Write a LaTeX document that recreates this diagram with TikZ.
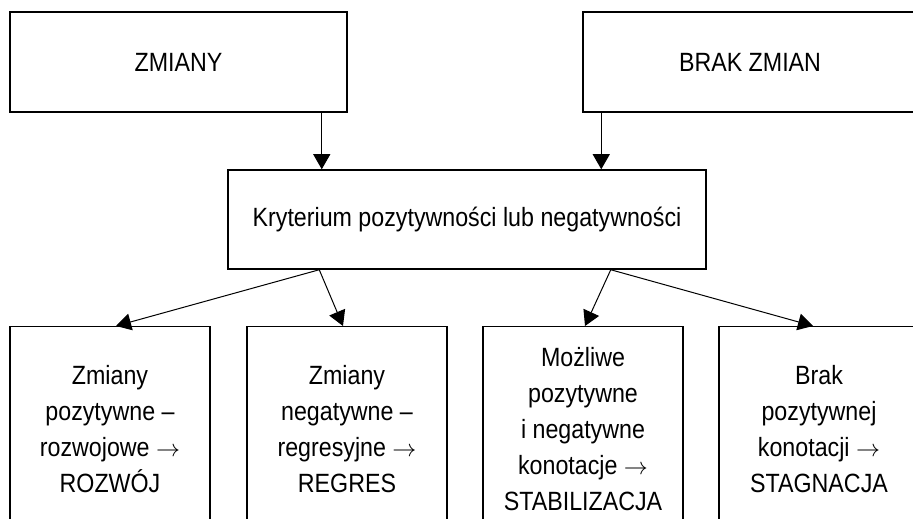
\documentclass[tikz,border=0pt]{standalone}
\usepackage{fontspec}
\setmainfont{Liberation Sans}[FakeStretch=0.88]
\usepackage{tikz}
\usetikzlibrary{calc}
\usetikzlibrary{arrows.meta,shapes}
\usetikzlibrary{positioning}
\begin{document}
\begin{tikzpicture}[x=0.5pt,y=0.5pt,
    box/.style={draw, line width=0.75pt, rectangle, inner sep=0pt, font=\fontsize{13.2}{18}\selectfont, align=center},
    res/.style={box, minimum width=100pt, minimum height=102pt, anchor=north},
    arr/.style={-{Triangle[length=7.5pt,width=8.5pt]}, line width=0.5pt}]
      \useasboundingbox (0,0) rectangle (913,518);
      \clip (0,0) rectangle (913,518);
      \node[box, minimum width=168.5pt, minimum height=50pt] (zm) at (178.5,456) {ZMIANY};
      \node[box, minimum width=167pt, minimum height=50pt] (bz) at (750,456) {BRAK ZMIAN};
      \node[box, minimum width=239pt, minimum height=49.5pt] (kr) at (467,298.5) {Kryterium pozytywności lub negatywności};
      \node[res] (r1) at (110,192) {Zmiany\\pozytywne –\\rozwojowe $\rightarrow$\\ROZWÓJ};
      \node[res] (r2) at (347,192) {Zmiany\\negatywne –\\regresyjne $\rightarrow$\\REGRES};
      \node[res] (r3) at (583,192) {Możliwe\\pozytywne\\i negatywne\\konotacje $\rightarrow$\\STABILIZACJA};
      \node[res] (r4) at (819,192) {Brak\\pozytywnej\\konotacji $\rightarrow$\\STAGNACJA};
      \draw[arr] ([xshift=-13pt]zm.south east) -- ([xshift=-13pt]zm.south east |- kr.north);
      \draw[arr] ([xshift=9.5pt]bz.south west) -- ([xshift=9.5pt]bz.south west |- kr.north);
      \draw[arr] ([xshift=46pt]kr.south west) -- ([xshift=3pt]r1.north);
      \draw[arr] ([xshift=46pt]kr.south west) -- ([xshift=-2pt]r2.north);
      \draw[arr] ([xshift=-48pt]kr.south east) -- ([xshift=1pt]r3.north);
      \draw[arr] ([xshift=-48pt]kr.south east) -- ([xshift=-3pt]r4.north);
    \end{tikzpicture}
\end{document}
